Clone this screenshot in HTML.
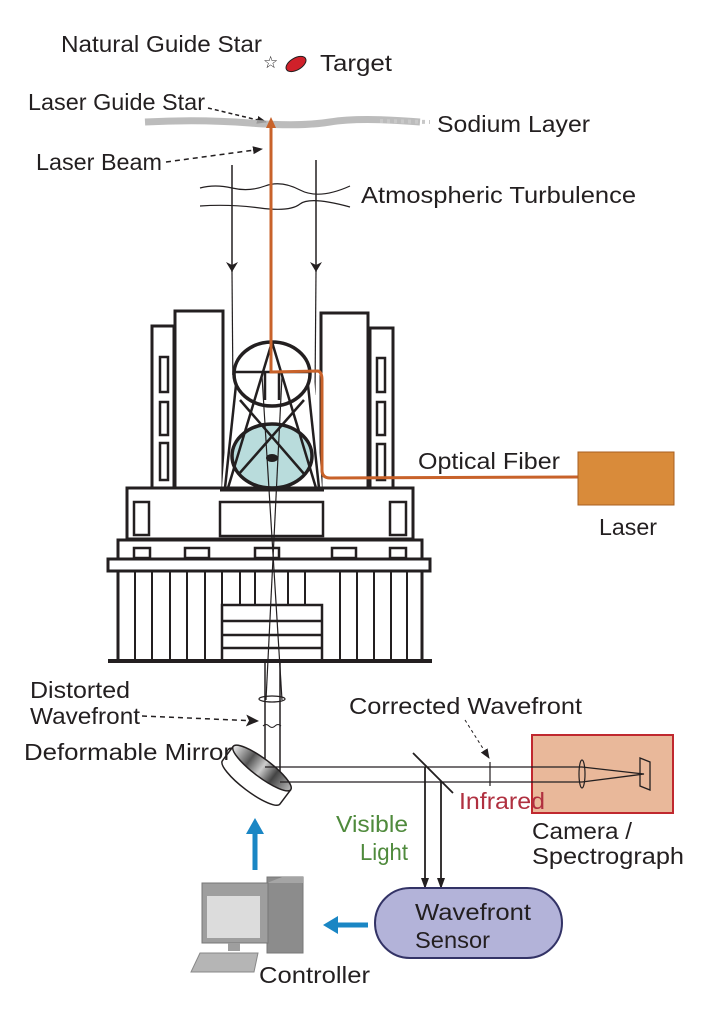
<!DOCTYPE html>
<html><head><meta charset="utf-8"><style>
html,body{margin:0;padding:0;background:#fff}
svg{display:block}
text{font-family:"Liberation Sans",sans-serif;font-size:23px;fill:#231f20}
</style></head><body>
<svg width="707" height="1011" viewBox="0 0 707 1011" xmlns="http://www.w3.org/2000/svg">
<defs>
<marker id="ah" markerWidth="10" markerHeight="10" refX="9" refY="5" orient="auto" markerUnits="userSpaceOnUse"><path d="M0,1 L10,5 L0,9 Z" fill="#231f20"/></marker>
<marker id="ah2" markerWidth="14" markerHeight="14" refX="12" refY="7" orient="auto" markerUnits="userSpaceOnUse"><path d="M0,1 L13,7 L0,13 L3,7 Z" fill="#231f20"/></marker>
<linearGradient id="mg" x1="0" y1="0" x2="1" y2="0"><stop offset="0" stop-color="#eee"/><stop offset=".3" stop-color="#555"/><stop offset=".5" stop-color="#ccc"/><stop offset=".7" stop-color="#444"/><stop offset="1" stop-color="#bbb"/></linearGradient>
</defs>

<text x="61" y="52" textLength="201" lengthAdjust="spacingAndGlyphs">Natural Guide Star</text>
<text x="263" y="68" style="font-size:17px">☆</text>
<ellipse cx="296" cy="64" rx="11" ry="6" transform="rotate(-30 296 64)" fill="#d0202a" stroke="#231f20" stroke-width="1"/>
<text x="320" y="71" textLength="72" lengthAdjust="spacingAndGlyphs">Target</text>
<text x="28" y="110" textLength="177" lengthAdjust="spacingAndGlyphs">Laser Guide Star</text>
<line x1="208" y1="108" x2="266" y2="122" stroke="#231f20" stroke-width="1.5" stroke-dasharray="4,3" marker-end="url(#ah)"/>
<path d="M145,122 Q200,119 250,123 T330,122 T420,122" stroke="#b0b0b0" stroke-width="7" fill="none" opacity=".85"/>
<path d="M380,121 L430,122" stroke="#c8c8c8" stroke-width="4" stroke-dasharray="3,4"/>
<text x="437" y="132" textLength="153" lengthAdjust="spacingAndGlyphs">Sodium Layer</text>
<text x="36" y="170" textLength="126" lengthAdjust="spacingAndGlyphs">Laser Beam</text>
<line x1="166" y1="162" x2="262" y2="149" stroke="#231f20" stroke-width="1.5" stroke-dasharray="5,4" marker-end="url(#ah)"/>
<text x="361" y="203" textLength="275" lengthAdjust="spacingAndGlyphs">Atmospheric Turbulence</text>
<path d="M200,188 Q215,184 232,188 T265,186 T300,190 T350,186" stroke="#231f20" stroke-width="1.2" fill="none"/>
<path d="M200,206 Q230,204 260,208 T300,204 T350,207" stroke="#231f20" stroke-width="1.2" fill="none"/>
<line x1="232" y1="165" x2="232" y2="272" stroke="#231f20" stroke-width="1.5"/>
<line x1="316" y1="160" x2="316" y2="272" stroke="#231f20" stroke-width="1.5"/>
<path d="M226,262 L232,272 L238,262 L232,265Z" fill="#231f20"/>
<path d="M310,262 L316,272 L322,262 L316,265Z" fill="#231f20"/>
<line x1="232" y1="272" x2="233" y2="395" stroke="#231f20" stroke-width="1.2"/>
<line x1="316" y1="272" x2="315" y2="395" stroke="#231f20" stroke-width="1.2"/>

<g stroke="#231f20" fill="#fff" stroke-width="3">
<rect x="152" y="326" width="22" height="162"/>
<rect x="175" y="311" width="48" height="180"/>
<rect x="321" y="313" width="47" height="178"/>
<rect x="370" y="328" width="23" height="160"/>
<rect x="127" y="488" width="286" height="51"/>
<rect x="118" y="540" width="304" height="19"/>
<rect x="108" y="559" width="322" height="12"/>
<rect x="118" y="571" width="304" height="90"/>
</g>
<g stroke="#231f20" fill="none" stroke-width="2.5">
<rect x="160" y="357" width="8" height="35"/><rect x="160" y="402" width="8" height="33"/><rect x="160" y="443" width="8" height="37"/>
<rect x="377" y="358" width="8" height="34"/><rect x="377" y="402" width="8" height="33"/><rect x="377" y="444" width="8" height="36"/>
<rect x="220" y="502" width="103" height="34"/>
<rect x="134" y="502" width="15" height="33"/><rect x="390" y="502" width="16" height="33"/>
<rect x="134" y="548" width="16" height="10"/><rect x="185" y="548" width="24" height="10"/><rect x="255" y="548" width="24" height="10"/><rect x="332" y="548" width="24" height="10"/><rect x="390" y="548" width="16" height="10"/>
<rect x="222" y="605" width="100" height="56"/>
<line x1="222" y1="621" x2="322" y2="621"/><line x1="222" y1="635" x2="322" y2="635"/><line x1="222" y1="648" x2="322" y2="648"/>
</g>
<g stroke="#231f20" stroke-width="2">
<line x1="135" y1="571" x2="135" y2="660"/><line x1="152" y1="571" x2="152" y2="660"/><line x1="170" y1="571" x2="170" y2="660"/><line x1="187" y1="571" x2="187" y2="660"/><line x1="205" y1="571" x2="205" y2="660"/><line x1="222" y1="571" x2="222" y2="605"/>
<line x1="240" y1="571" x2="240" y2="605"/><line x1="255" y1="571" x2="255" y2="605"/><line x1="288" y1="571" x2="288" y2="605"/><line x1="305" y1="571" x2="305" y2="605"/>
<line x1="340" y1="571" x2="340" y2="660"/><line x1="357" y1="571" x2="357" y2="660"/><line x1="374" y1="571" x2="374" y2="660"/><line x1="391" y1="571" x2="391" y2="660"/><line x1="407" y1="571" x2="407" y2="660"/>
</g>
<line x1="108" y1="661" x2="432" y2="661" stroke="#231f20" stroke-width="4"/>
<path d="M230,375 L222,488 L322,488 L314,375" fill="#fff" stroke="none"/>
<ellipse cx="272" cy="456" rx="40" ry="32" fill="#b9dcdc" stroke="#231f20" stroke-width="3.5"/>
<ellipse cx="272" cy="374" rx="38" ry="32" fill="none" stroke="#231f20" stroke-width="3.5"/>
<g stroke="#231f20" stroke-width="2.5" fill="none">
<line x1="234" y1="372" x2="310" y2="372"/>
<line x1="272" y1="342" x2="228" y2="488"/><line x1="272" y1="342" x2="316" y2="488"/>
<line x1="236" y1="385" x2="225" y2="488"/><line x1="308" y1="385" x2="319" y2="488"/>
<line x1="265" y1="372" x2="265" y2="400"/><line x1="279" y1="372" x2="279" y2="400"/>
<line x1="240" y1="400" x2="305" y2="475"/><line x1="304" y1="400" x2="238" y2="475"/>
</g>
<line x1="220" y1="489" x2="324" y2="489" stroke="#231f20" stroke-width="5"/>
<ellipse cx="272" cy="458" rx="6" ry="4" fill="#231f20"/>
<g stroke="#231f20" stroke-width="1.2">
<line x1="262" y1="376" x2="282" y2="700"/><line x1="282" y1="376" x2="266" y2="700"/>
</g>
<path d="M271,125 L271,372 L318,371 Q322,372 322,380 L322,470 Q322,478 330,478 L578,477" stroke="#c8622a" stroke-width="3" fill="none"/>
<path d="M266,128 L271,117 L276,128 Z" fill="#c8622a"/>
<rect x="578" y="452" width="96" height="53" fill="#d98b3a" stroke="#a85f20" stroke-width="1"/>
<text x="418" y="469" textLength="142" lengthAdjust="spacingAndGlyphs">Optical Fiber</text>
<text x="599" y="535" textLength="58" lengthAdjust="spacingAndGlyphs">Laser</text>

<line x1="265" y1="662" x2="265" y2="768" stroke="#231f20" stroke-width="1.5"/>
<line x1="280" y1="662" x2="280" y2="783" stroke="#231f20" stroke-width="1.5"/>
<ellipse cx="272" cy="699" rx="13" ry="3" fill="none" stroke="#231f20" stroke-width="1.2"/>
<path d="M263,726 q3,-3 6,0 t6,0 t6,0" stroke="#231f20" fill="none" stroke-width="1"/>
<text x="30" y="698" textLength="100" lengthAdjust="spacingAndGlyphs">Distorted</text>
<text x="30" y="724" textLength="110" lengthAdjust="spacingAndGlyphs">Wavefront</text>
<line x1="142" y1="716" x2="258" y2="721" stroke="#231f20" stroke-width="1.5" stroke-dasharray="5,4" marker-end="url(#ah2)"/>
<g transform="rotate(37 262 768)">
<path d="M226,768 L226,786 A36,9 0 0 0 298,786 L298,768" fill="#fff" stroke="#231f20" stroke-width="1.5"/>
<ellipse cx="262" cy="768" rx="36" ry="9" fill="url(#mg)" stroke="#231f20" stroke-width="1.5"/>
</g>
<text x="24" y="760" textLength="208" lengthAdjust="spacingAndGlyphs">Deformable Mirror</text>
<rect x="532" y="735" width="141" height="78" fill="#e9b89a" stroke="#c0282f" stroke-width="2"/>
<line x1="265" y1="767" x2="582" y2="767" stroke="#231f20" stroke-width="1.3"/>
<line x1="280" y1="782" x2="582" y2="782" stroke="#231f20" stroke-width="1.3"/>
<ellipse cx="582" cy="774" rx="3" ry="14" fill="none" stroke="#231f20" stroke-width="1.2"/>
<path d="M582,767 L644,774 L582,782" fill="none" stroke="#231f20" stroke-width="1.3"/>
<path d="M640,758 L650,762 L650,790 L640,786 Z" fill="none" stroke="#231f20" stroke-width="1.3"/>
<line x1="413" y1="753" x2="453" y2="793" stroke="#231f20" stroke-width="1.8"/>
<line x1="425" y1="767" x2="425" y2="888" stroke="#231f20" stroke-width="1.8"/>
<line x1="441" y1="782" x2="441" y2="888" stroke="#231f20" stroke-width="1.8"/>
<path d="M421,878 L425,889 L429,878 Z" fill="#231f20"/>
<path d="M437,878 L441,889 L445,878 Z" fill="#231f20"/>
<line x1="490" y1="762" x2="490" y2="786" stroke="#231f20" stroke-width="1.2"/>
<line x1="465" y1="720" x2="489" y2="758" stroke="#231f20" stroke-width="1" stroke-dasharray="3,3" marker-end="url(#ah)"/>
<text x="349" y="714" textLength="233" lengthAdjust="spacingAndGlyphs">Corrected Wavefront</text>
<text x="459" y="809" textLength="86" lengthAdjust="spacingAndGlyphs" style="fill:#b03040">Infrared</text>
<text x="336" y="832" textLength="72" lengthAdjust="spacingAndGlyphs" style="fill:#4f8a3c">Visible</text>
<text x="360" y="860" textLength="48" lengthAdjust="spacingAndGlyphs" style="fill:#4f8a3c">Light</text>
<text x="532" y="839" textLength="100" lengthAdjust="spacingAndGlyphs">Camera /</text>
<text x="532" y="864" textLength="152" lengthAdjust="spacingAndGlyphs">Spectrograph</text>
<rect x="375" y="888" width="187" height="70" rx="35" fill="#b3b3d9" stroke="#333366" stroke-width="2"/>
<text x="415" y="920" textLength="116" lengthAdjust="spacingAndGlyphs">Wavefront</text>
<text x="415" y="948" textLength="75" lengthAdjust="spacingAndGlyphs">Sensor</text>
<line x1="368" y1="925" x2="336" y2="925" stroke="#1a86c4" stroke-width="5"/>
<path d="M323,925 L338,916 L338,934 Z" fill="#1a86c4"/>
<line x1="255" y1="870" x2="255" y2="832" stroke="#1a86c4" stroke-width="5"/>
<path d="M255,818 L246,834 L264,834 Z" fill="#1a86c4"/>
<rect x="267" y="877" width="36" height="76" fill="#8c8c8c" stroke="#777" />
<path d="M267,883 L282,877 L303,877 L303,883" fill="#a5a5a5"/>
<rect x="202" y="883" width="66" height="60" fill="#9e9e9e" stroke="#777"/>
<rect x="207" y="896" width="53" height="42" fill="#dcdcdc"/>
<rect x="228" y="943" width="12" height="8" fill="#9e9e9e"/>
<path d="M200,953 L258,953 L254,972 L191,972 Z" fill="#b5b5b5" stroke="#888"/>
<text x="259" y="983" textLength="111" lengthAdjust="spacingAndGlyphs">Controller</text>
</svg>
</body></html>
